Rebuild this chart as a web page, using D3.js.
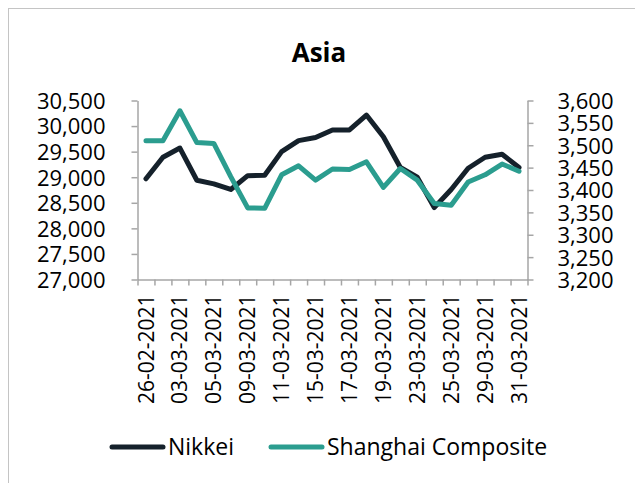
<!DOCTYPE html>
<html>
<head>
<meta charset="utf-8">
<script src="https://cdn.jsdelivr.net/npm/d3@7"></script>
<style>
    html, body { margin: 0; padding: 0; background: #ffffff; }
    svg { display: block; }
    text { font-family: "Open Sans", "Noto Sans", sans-serif; fill: #000000; }
</style>
</head>
<body>
<div id="chart"></div>
<script>
// Trading days shown on the category axis
var dates = ["26-02-2021", "02-03-2021", "03-03-2021", "04-03-2021", "05-03-2021",
    "08-03-2021", "09-03-2021", "10-03-2021", "11-03-2021", "12-03-2021",
    "15-03-2021", "16-03-2021", "17-03-2021", "18-03-2021", "19-03-2021",
    "22-03-2021", "23-03-2021", "24-03-2021", "25-03-2021", "26-03-2021",
    "29-03-2021", "30-03-2021", "31-03-2021"];

// Nikkei (left axis)
var nikkei = [28970, 29390, 29570, 28940, 28870, 28760, 29030, 29040, 29500, 29715,
    29775, 29925, 29925, 30215, 29790, 29190, 29000, 28405, 28760, 29175,
    29390, 29450, 29190];

// Shanghai Composite (right axis)
var shanghai = [3510, 3510, 3577, 3506, 3504, 3430, 3360, 3359, 3434, 3454,
    3422, 3447, 3446, 3463, 3406, 3448, 3422, 3370, 3366, 3418,
    3434, 3458, 3442];

var leftTicks = [27000, 27500, 28000, 28500, 29000, 29500, 30000, 30500];
var rightTicks = [3200, 3250, 3300, 3350, 3400, 3450, 3500, 3550, 3600];

var seriesNames = ["Nikkei", "Shanghai Composite"];
var seriesColors = ["#15212b", "#2b9d8f"];

var width = 635, height = 483;
var plot = { left: 137.5, right: 527.5, top: 100.5, bottom: 279.5 };
var axisColor = "#a6a6a6";
var fmt = d3.format(",");

var svg = d3.select("#chart").append("svg")
    .attr("width", width)
    .attr("height", height);

// chart frame (runs off the right and bottom of the picture)
svg.append("rect")
    .attr("x", 8.5).attr("y", 8.5)
    .attr("width", 700).attr("height", 600)
    .attr("fill", "none")
    .attr("stroke", "#c4c4c4")
    .attr("stroke-width", 1);

// title
svg.append("text")
    .attr("x", 319).attr("y", 62)
    .attr("text-anchor", "middle")
    .style("font-size", "26px")
    .style("font-weight", "bold")
    .text("Asia");

// Scales
var x = d3.scaleBand().domain(dates).range([plot.left, plot.right]).padding(0);
var xEdge = d3.scaleLinear().domain([0, dates.length]).range([plot.left, plot.right]);
var yLeft = d3.scaleLinear().domain([27000, 30500]).range([plot.bottom, plot.top]);
var yRight = d3.scaleLinear().domain([3200, 3600]).range([plot.bottom, plot.top]);

function styleAxis(g) {
    g.select(".domain").attr("stroke", axisColor).attr("stroke-width", 1.5);
    g.selectAll(".tick line").attr("stroke", axisColor).attr("stroke-width", 1.5);
    g.selectAll(".tick text")
        .style("font-family", "\"Open Sans\", sans-serif")
        .style("font-size", "22px")
        .attr("fill", "#000000");
}

// left axis
svg.append("g")
    .attr("transform", "translate(" + plot.left + ",0)")
    .call(d3.axisLeft(yLeft).tickValues(leftTicks).tickFormat(fmt).tickSizeInner(6).tickSizeOuter(0).tickPadding(26))
    .call(styleAxis)
    .selectAll(".tick text").attr("dy", "0.36em");

// right axis
svg.append("g")
    .attr("transform", "translate(" + plot.right + ",0)")
    .call(d3.axisRight(yRight).tickValues(rightTicks).tickFormat(fmt).tickSizeInner(6).tickSizeOuter(0).tickPadding(24))
    .call(styleAxis)
    .selectAll(".tick text").attr("dy", "0.36em");

// bottom axis: ticks between categories
svg.append("g")
    .attr("transform", "translate(0," + plot.bottom + ")")
    .call(d3.axisBottom(xEdge).tickValues(d3.range(dates.length + 1)).tickFormat("").tickSizeInner(6).tickSizeOuter(0))
    .call(styleAxis);

// category labels, every second day
svg.append("g")
    .selectAll("text")
    .data(dates.filter(function (d, i) { return i % 2 === 0; }))
    .enter().append("text")
        .attr("transform", function (d) {
            return "translate(" + (x(d) + x.bandwidth() / 2) + "," + (plot.bottom + 15) + ") rotate(-90)";
        })
        .attr("text-anchor", "end")
        .attr("dy", "0.36em")
        .style("font-size", "21px")
        .text(function (d) { return d; });

// Lines
var lineLeft = d3.line()
    .x(function (d, i) { return x(dates[i]) + x.bandwidth() / 2; })
    .y(function (d) { return yLeft(d); });

var lineRight = d3.line()
    .x(function (d, i) { return x(dates[i]) + x.bandwidth() / 2; })
    .y(function (d) { return yRight(d); });

svg.append("path")
    .datum(nikkei)
    .attr("d", lineLeft)
    .attr("fill", "none")
    .attr("stroke", seriesColors[0])
    .attr("stroke-width", 5)
    .attr("stroke-linejoin", "round")
    .attr("stroke-linecap", "round");

svg.append("path")
    .datum(shanghai)
    .attr("d", lineRight)
    .attr("fill", "none")
    .attr("stroke", seriesColors[1])
    .attr("stroke-width", 5)
    .attr("stroke-linejoin", "round")
    .attr("stroke-linecap", "round");

// Legend
var legendItems = [
    { name: seriesNames[0], color: seriesColors[0], x: 110 },
    { name: seriesNames[1], color: seriesColors[1], x: 269 }
];
var legend = svg.append("g").attr("class", "legend");
legendItems.forEach(function (item) {
    legend.append("line")
        .attr("x1", item.x + 2).attr("x2", item.x + 53)
        .attr("y1", 447).attr("y2", 447)
        .attr("stroke", item.color)
        .attr("stroke-width", 5)
        .attr("stroke-linecap", "round");
    legend.append("text")
        .attr("x", item.x + 58).attr("y", 447)
        .attr("dy", "0.36em")
        .style("font-size", "23px")
        .text(item.name);
});
</script>
</body>
</html>
